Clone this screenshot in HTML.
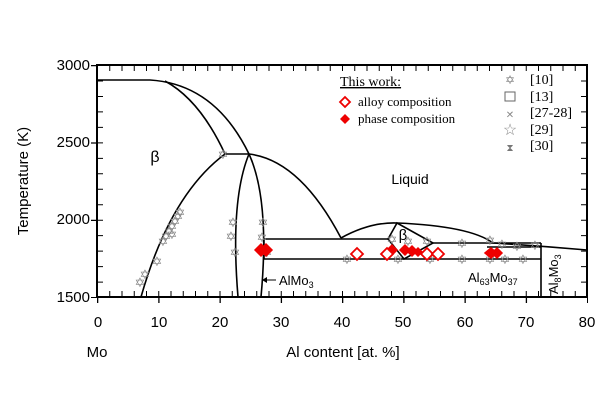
<!DOCTYPE html>
<html><head><meta charset="utf-8"><style>html,body{margin:0;padding:0;background:#fff}svg{display:block}</style></head>
<body>
<svg width="600" height="400" viewBox="0 0 600 400" xmlns="http://www.w3.org/2000/svg" font-family="Liberation Sans, sans-serif">
<rect width="600" height="400" fill="#fff"/>
<g stroke="#000" fill="none">
<line x1="97" y1="294" x2="588" y2="294" stroke-width="6" stroke-dasharray="1 11.25"/>
<line x1="97" y1="68" x2="588" y2="68" stroke-width="6" stroke-dasharray="1 11.25"/>
<line x1="97" y1="300" x2="588" y2="300" stroke-width="6" stroke-dasharray="1.3 59.95"/>
<line x1="100" y1="65" x2="100" y2="298" stroke-width="6" stroke-dasharray="1 14.47"/>
<line x1="584" y1="65" x2="584" y2="298" stroke-width="6" stroke-dasharray="1 14.47"/>
<line x1="94" y1="65" x2="94" y2="298" stroke-width="6" stroke-dasharray="1.3 76.05"/>
</g>
<rect x="97" y="65" width="490" height="232" fill="none" stroke="#000" stroke-width="2"/>
<g stroke="#000" stroke-width="1.6" fill="none">
<path d="M97,80 L150,80 Q215,84 249,154"/>
<path d="M165,81 Q200,100 225,154"/>
<line x1="225" y1="154" x2="249" y2="154"/>
<path d="M249,154 Q300,160 341,238"/>
<path d="M341,238 Q370,222 397,223 Q470,226 493,243 Q540,246 587,250"/>
<path d="M141,297 Q170,195 225,154"/>
<path d="M238,297 Q230,200 249,154"/>
<path d="M261,297 Q270,200 249,154"/>
<line x1="264" y1="239" x2="388" y2="239"/>
<line x1="264" y1="259" x2="541" y2="259"/>
<line x1="264" y1="239" x2="264" y2="259"/>
<line x1="433" y1="243" x2="541" y2="243"/>
<line x1="487" y1="247" x2="541" y2="247"/>
<line x1="541" y1="243" x2="541" y2="297"/>
<path d="M388,239 L397,223 L433,243 L404,259 Z"/>
</g>
<line x1="262" y1="280" x2="276" y2="280" stroke="#000" stroke-width="1"/>
<path d="M262,280 l5,-3 v6z" fill="#000"/>
<g fill="#888" font-size="13" text-anchor="middle">
<text x="140" y="287">✡</text><text x="145" y="279">✡</text><text x="157" y="266">✡</text>
<text x="163" y="246">✡</text><text x="166" y="241">✡</text><text x="169" y="236">✡</text><text x="172" y="231">✡</text><text x="175" y="226">✡</text><text x="178" y="221">✡</text><text x="180" y="217">✡</text><text x="172" y="239">✡</text>
<text x="223" y="159">✡</text>
<text x="233" y="227">✡</text><text x="231" y="241">✡</text><text x="235" y="257">✡</text>
<text x="263" y="227">✡</text><text x="262" y="242">✡</text><text x="267" y="257">✡</text>
<text x="347" y="264">✡</text>
<text x="392" y="244">✡</text><text x="408" y="246">✡</text><text x="427" y="246">✡</text><text x="398" y="264">✡</text><text x="430" y="264">✡</text>
<text x="462" y="248">✡</text><text x="462" y="264">✡</text><text x="490" y="245">✡</text><text x="502" y="249">✡</text><text x="490" y="264">✡</text><text x="505" y="264">✡</text><text x="517" y="251">✡</text><text x="523" y="264">✡</text><text x="535" y="250">✡</text>
</g>
<g fill="#e00" stroke="#e00" stroke-width="1.5">
<path d="M260,250 l6,-6 l6,6 l-6,6z"/>
<path d="M255,250 l6,-6 l6,6 l-6,6z"/>
<path d="M387,250 l5,-5 l5,5 l-5,5z"/>
<path d="M400,250 l5,-5 l5,5 l-5,5z"/>
<path d="M407,251 l5,-5 l5,5 l-5,5z"/>
<path d="M414,252 l4,-4 l4,4 l-4,4z"/>
<path d="M485,253 l6,-5 l6,5 l-6,5z"/>
<path d="M492,253 l5,-5 l5,5 l-5,5z"/>
</g>
<g fill="#fff" stroke="#e00" stroke-width="1.8">
<path d="M351,254 l6,-6 l6,6 l-6,6z"/>
<path d="M381,254 l6,-6 l6,6 l-6,6z"/>
<path d="M421,254 l6,-6 l6,6 l-6,6z"/>
<path d="M432,254 l6,-6 l6,6 l-6,6z"/>
</g>
<text x="340" y="86" font-family="Liberation Serif, serif" font-size="14" text-decoration="underline">This work:</text>
<path d="M340,102 l5,-5 l5,5 l-5,5z" fill="#fff" stroke="#e00" stroke-width="1.8"/>
<text x="358" y="106" font-family="Liberation Serif, serif" font-size="13">alloy composition</text>
<path d="M340,119 l5,-5 l5,5 l-5,5z" fill="#e00"/>
<text x="358" y="123" font-family="Liberation Serif, serif" font-size="13">phase composition</text>
<g font-family="Liberation Serif, serif" font-size="14">
<text x="510" y="84" fill="#888" font-size="12" text-anchor="middle">✡</text><text x="530" y="84">[10]</text>
<rect x="505" y="92" width="10" height="9" fill="none" stroke="#666"/><text x="530" y="101">[13]</text>
<text x="510" y="118" fill="#888" font-size="10" text-anchor="middle">✕</text><text x="530" y="117">[27-28]</text>
<text x="510" y="135" fill="#888" font-size="16" text-anchor="middle">☆</text><text x="530" y="134">[29]</text>
<text x="510" y="151" fill="#777" font-size="10" text-anchor="middle">⧗</text><text x="530" y="150">[30]</text>
</g>
<text x="155" y="162" font-size="16" text-anchor="middle">β</text>
<text x="410" y="184" font-size="14" text-anchor="middle">Liquid</text>
<text x="403" y="240" font-size="15" text-anchor="middle">β</text>
<text x="279" y="285" font-size="13">AlMo<tspan font-size="9" dy="3">3</tspan></text>
<text x="468" y="282" font-size="13">Al<tspan font-size="9" dy="3">63</tspan><tspan dy="-3">Mo</tspan><tspan font-size="9" dy="3">37</tspan></text>
<text transform="translate(558,294) rotate(-90)" font-size="13">Al<tspan font-size="9" dy="3">8</tspan><tspan dy="-3">Mo</tspan><tspan font-size="9" dy="3">3</tspan></text>
<g font-size="15" text-anchor="end">
<text x="90" y="70">3000</text><text x="90" y="147">2500</text><text x="90" y="224">2000</text><text x="90" y="302">1500</text>
</g>
<g font-size="15" text-anchor="middle">
<text x="98" y="327">0</text><text x="159" y="327">10</text><text x="220" y="327">20</text><text x="281" y="327">30</text><text x="342" y="327">40</text><text x="403" y="327">50</text><text x="465" y="327">60</text><text x="526" y="327">70</text><text x="587" y="327">80</text>
</g>
<text x="97" y="357" font-size="15" text-anchor="middle">Mo</text>
<text x="343" y="357" font-size="15" text-anchor="middle">Al content [at. %]</text>
<text transform="translate(28,181) rotate(-90)" font-size="15" text-anchor="middle">Temperature  (K)</text>
</svg>
</body></html>
